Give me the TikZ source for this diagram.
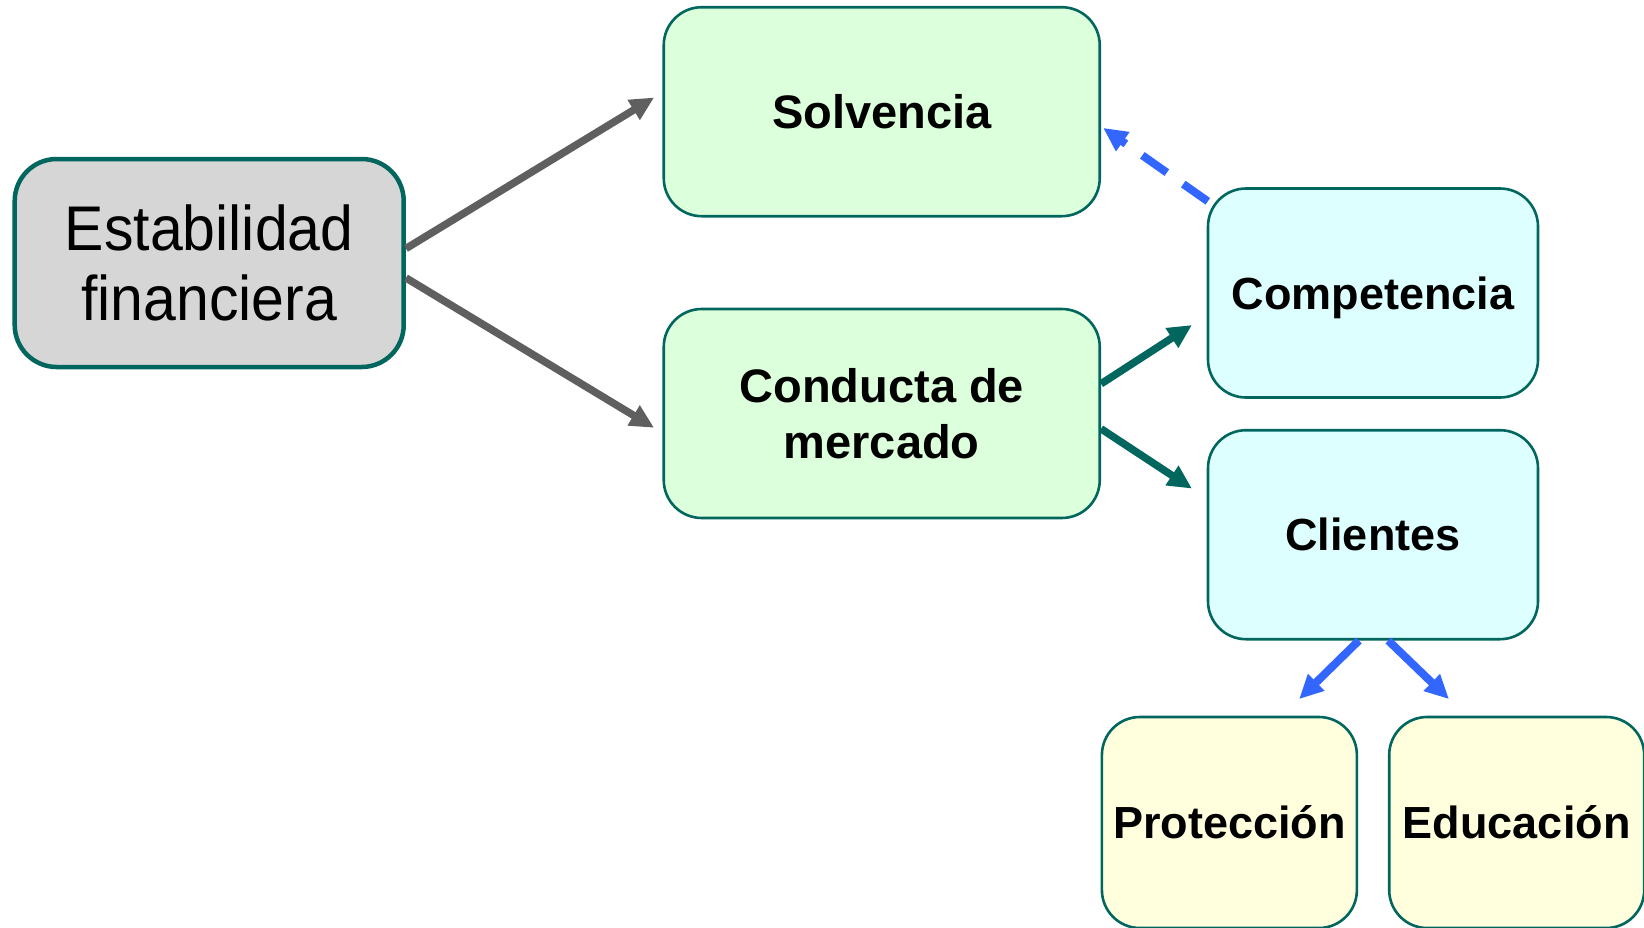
\documentclass[tikz,border=0pt]{standalone}
\usepackage{fontspec}
\setmainfont{Liberation Sans}
\usetikzlibrary{arrows.meta,calc}
\definecolor{tealB}{HTML}{00665E}
\definecolor{greyA}{HTML}{5F5F5F}
\definecolor{blueA}{HTML}{3366FF}
\definecolor{fillGrey}{HTML}{D6D6D6}
\definecolor{fillGreen}{HTML}{DCFFDC}
\definecolor{fillCyan}{HTML}{DEFFFF}
\definecolor{fillYellow}{HTML}{FFFFDE}
\begin{document}
\begin{tikzpicture}[x=1pt,y=-1pt,
  box/.style={draw=tealB, line width=2.6pt, rounded corners=38pt, inner sep=0pt,
    align=center, font=\bfseries\fontsize{45}{54}\selectfont},
  greenbox/.style={box, fill=fillGreen, minimum width=436pt, minimum height=209pt,
    font=\bfseries\fontsize{47}{56.6}\selectfont},
  cyanbox/.style={box, fill=fillCyan, minimum width=330pt, minimum height=209pt},
  yellowbox/.style={box, fill=fillYellow, minimum width=255pt, minimum height=211pt},
  tip/.style={-{Triangle[length=24pt,width=22pt]}},
  greyarrow/.style={draw=greyA, line width=7.5pt, tip},
  tealarrow/.style={draw=tealB, line width=7.5pt, tip},
  bluearrow/.style={draw=blueA, line width=8pt, tip},
  bluedash/.style={draw=blueA, line width=8pt, dash pattern=on 30pt off 20pt, tip}]
\useasboundingbox (0,0) rectangle (1644,927);
\fill[white] (0,0) rectangle (1644,927);

\node[box, draw=tealB, line width=4.5pt, rounded corners=42pt, fill=fillGrey,
  minimum width=389pt, minimum height=208pt,
  font=\fontsize{59}{70}\selectfont] (estab) at (209.2,263)
  {\scalebox{1}[1.07]{Estabilidad}\\\scalebox{1}[1.07]{financiera}};

\node[greenbox] (solv) at (881.75,111.7) {Solvencia};
\node[greenbox] (cond) at (881.75,413.5) {Conducta de\\mercado};
\node[cyanbox, text depth=0pt] (comp) at (1373,293) {Competencia};
\node[cyanbox] (clie) at (1373,534.7) {Clientes};
\node[yellowbox] (prot) at (1229.4,822.5) {Protección};
\node[yellowbox] (educ) at (1516.7,822.5) {Educación};

\draw[greyarrow] ($(estab.east)+(0,-14.5)$) -- ($(solv.west)+(-8.3,-14.2)$);
\draw[greyarrow] ($(estab.east)+(0,14.9)$) -- ($(cond.west)+(-8.3,14.3)$);
\draw[tealarrow] ($(cond.east)+(0,-29.7)$) -- ($(comp.west)+(-14.7,32)$);
\draw[tealarrow] ($(cond.east)+(0,15.3)$) -- ($(clie.west)+(-14.7,-46.1)$);
\draw[bluedash] ($(comp.west)+(1.1,-91.7)$) -- ($(solv.east)+(2.1,16.2)$);
\draw[bluearrow] ($(clie.south)+(-14.1,0)$) -- ($(prot.north)+(69.7,-16.6)$);
\draw[bluearrow] ($(clie.south)+(15.2,0)$) -- ($(educ.north)+(-67.7,-16.6)$);
\end{tikzpicture}
\end{document}
